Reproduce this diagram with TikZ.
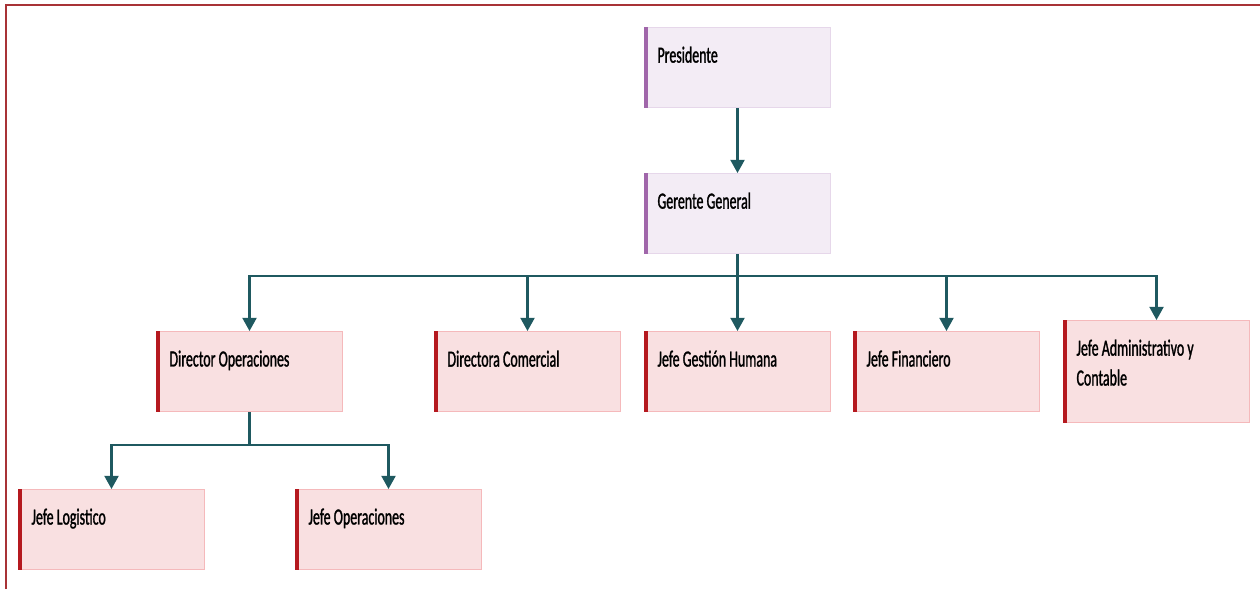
\documentclass[tikz,border=0pt]{standalone}
\usepackage{fontspec}
\usepackage{xcolor}
\usetikzlibrary{arrows.meta}
\newfontfamily\boxfont[FakeStretch=0.6,FakeBold=1.2]{Carlito}

\definecolor{marco}{HTML}{A83236}
\definecolor{flecha}{HTML}{1F5960}
\definecolor{rosafondo}{HTML}{F9E0E1}
\definecolor{rosaborde}{HTML}{F5B9BB}
\definecolor{rojobarra}{HTML}{B5191F}
\definecolor{lilafondo}{HTML}{F3ECF5}
\definecolor{lilaborde}{HTML}{E6D7EA}
\definecolor{lilabarra}{HTML}{A066AA}

\tikzset{
  cargo/.style={draw=rosaborde, fill=rosafondo, line width=0.6pt, anchor=north west,
    inner sep=0pt, font=\boxfont\fontsize{13.2}{17}\selectfont},
  jefatura/.style={cargo, draw=lilaborde, fill=lilafondo},
  conector/.style={draw=flecha, line width=1.2pt, -{Triangle[width=8pt,length=7.5pt]}},
  linea/.style={draw=flecha, line width=1.2pt}
}

\begin{document}
\begin{tikzpicture}[x=0.02cm, y=-0.02cm]
\useasboundingbox (0,0) rectangle (1260,589);

% Frame
\draw[marco, line width=1.6pt] (6,589) -- (6,5) -- (1260,5);

% Boxes
\node[jefatura] (pres) at (644,27) {\parbox[t][1.6cm][t]{3.72cm}{\vspace*{0.38cm}\hspace*{0.26cm}Presidente}};
\node[jefatura] (ger) at (644,173) {\parbox[t][1.6cm][t]{3.72cm}{\vspace*{0.38cm}\hspace*{0.26cm}Gerente General}};

\node[cargo] (dir) at (156,331) {\parbox[t][1.6cm][t]{3.72cm}{\vspace*{0.38cm}\hspace*{0.26cm}Director Operaciones}};
\node[cargo] (com) at (434,331) {\parbox[t][1.6cm][t]{3.72cm}{\vspace*{0.38cm}\hspace*{0.26cm}Directora Comercial}};
\node[cargo] (hum) at (644,331) {\parbox[t][1.6cm][t]{3.72cm}{\vspace*{0.38cm}\hspace*{0.26cm}Jefe Gestión Humana}};
\node[cargo] (fin) at (853,331) {\parbox[t][1.6cm][t]{3.72cm}{\vspace*{0.38cm}\hspace*{0.26cm}Jefe Financiero}};
\node[cargo] (adm) at (1063,320) {\parbox[t][2.04cm][t]{3.72cm}{\vspace*{0.38cm}\leftskip=0.26cm Jefe Administrativo y\\Contable}};

\node[cargo] (log) at (18,489) {\parbox[t][1.6cm][t]{3.72cm}{\vspace*{0.38cm}\hspace*{0.26cm}Jefe Logistico}};
\node[cargo] (ope) at (295,489) {\parbox[t][1.6cm][t]{3.72cm}{\vspace*{0.38cm}\hspace*{0.26cm}Jefe Operaciones}};

% Left bars
\foreach \b in {pres,ger} {
  \fill[lilabarra] (\b.north west) rectangle ([xshift=0.08cm]\b.south west);
}
\foreach \b in {dir,com,hum,fin,adm,log,ope} {
  \fill[rojobarra] (\b.north west) rectangle ([xshift=0.08cm]\b.south west);
}

% Connectors
\draw[conector] (pres.south) -- (ger.north);

\path (ger.south) ++(0,22) coordinate (bus);
\draw[linea] (ger.south) -- (bus);
\foreach \b in {dir,com,hum,fin,adm} {
  \draw[conector] (bus) -| (\b.north);
}

\path (dir.south) ++(0,33) coordinate (bus2);
\draw[linea] (dir.south) -- (bus2);
\foreach \b in {log,ope} {
  \draw[conector] (bus2) -| (\b.north);
}

\end{tikzpicture}
\end{document}
